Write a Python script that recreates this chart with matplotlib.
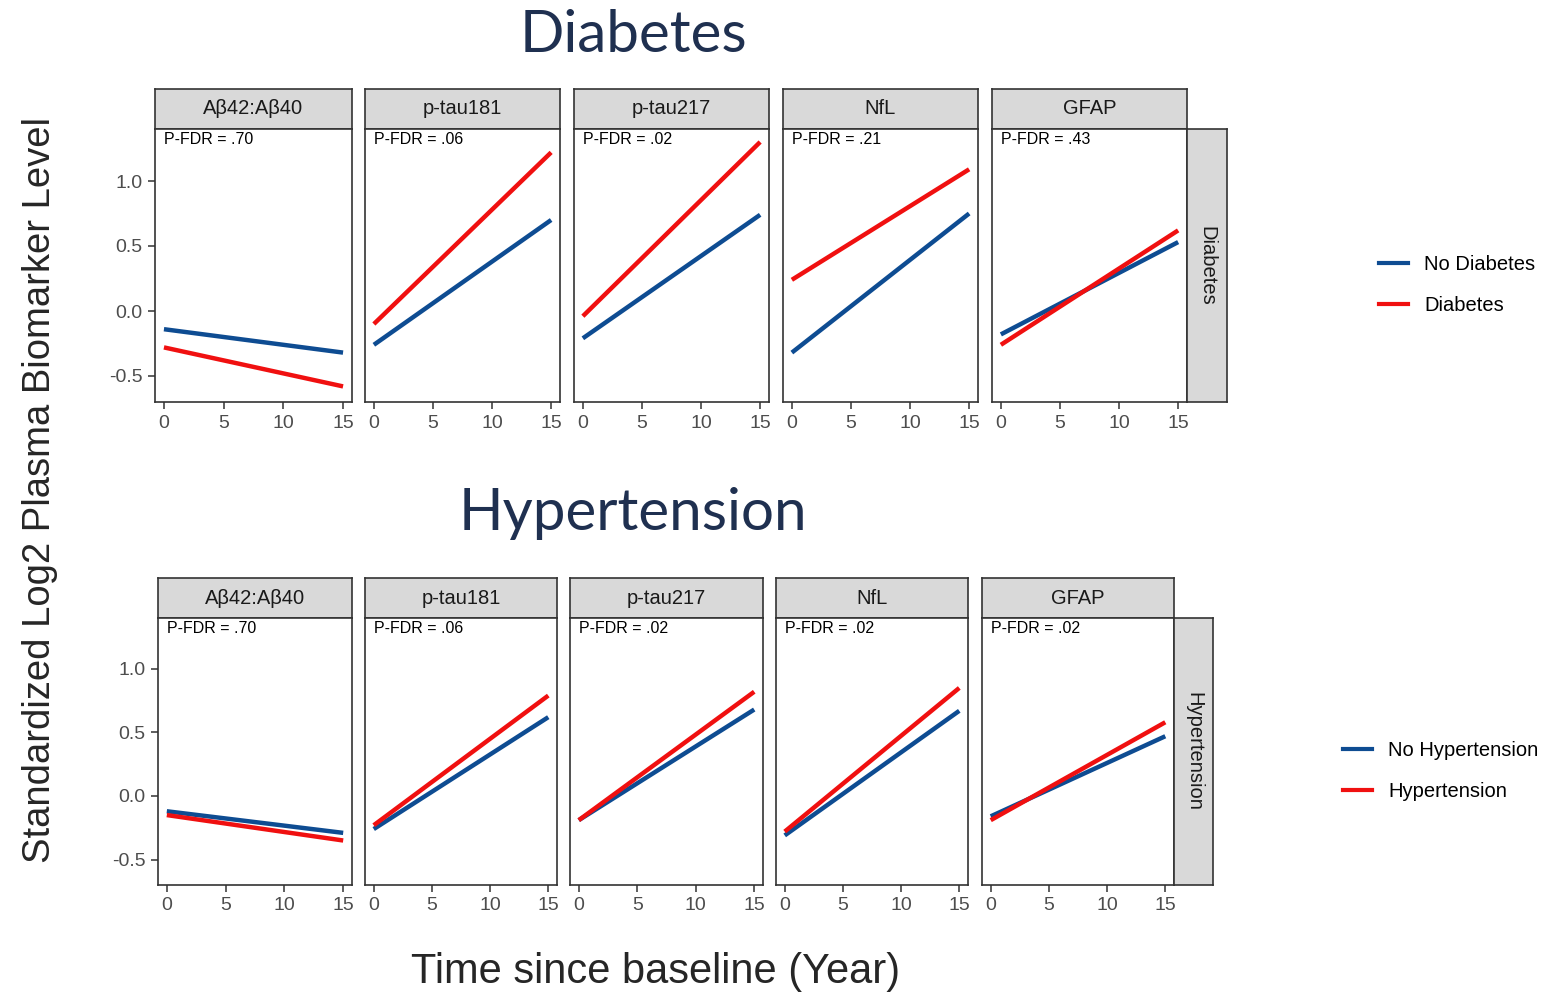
import matplotlib
matplotlib.use("Agg")
import matplotlib.pyplot as plt
from matplotlib.lines import Line2D

# dữ liệu
markers = ["Aβ42:Aβ40", "p-tau181", "p-tau217", "NfL", "GFAP"]
years = [0, 15]

diab_pfdr = [".70", ".06", ".02", ".21", ".43"]
diab_no = [[-0.14, -0.32], [-0.26, 0.70], [-0.21, 0.74], [-0.32, 0.75], [-0.18, 0.53]]
diab_yes = [[-0.28, -0.58], [-0.10, 1.22], [-0.04, 1.30], [0.24, 1.09], [-0.26, 0.62]]

hyp_pfdr = [".70", ".06", ".02", ".02", ".02"]
hyp_no = [[-0.12, -0.29], [-0.26, 0.62], [-0.19, 0.68], [-0.31, 0.67], [-0.16, 0.47]]
hyp_yes = [[-0.15, -0.35], [-0.23, 0.79], [-0.19, 0.82], [-0.28, 0.85], [-0.19, 0.58]]

x_ticks = [0, 5, 10, 15]
y_ticks = [-0.5, 0.0, 0.5, 1.0]
y_ticklabels = ["-0.5", "0.0", "0.5", "1.0"]

BLUE = "#0E4C92"
RED = "#F01010"
STRIP = "#D9D9D9"
EDGE = "#333333"
TXT = "#1A1A1A"
TICK = "#4D4D4D"

W, H = 1560, 992
plt.rcParams["font.family"] = ["Liberation Sans", "DejaVu Sans"]

fig = plt.figure(figsize=(W / 100, H / 100), dpi=100)


def box(x0, y0, x1, y1):
    return [x0 / W, 1 - y1 / H, (x1 - x0) / W, (y1 - y0) / H]


def draw_row(cols, strip_y, plot_y, right_strip, group, pfdr, no_vals, yes_vals):
    for i, (x0, x1) in enumerate(cols):
        # strip on top
        s = fig.add_axes(box(x0, strip_y[0], x1, strip_y[1]))
        s.set_facecolor(STRIP)
        s.set_xticks([])
        s.set_yticks([])
        for sp in s.spines.values():
            sp.set_color(EDGE)
            sp.set_linewidth(1.2)
        s.text(0.5, 0.5, markers[i], ha="center", va="center", fontsize=14.5, color=TXT)

        ax = fig.add_axes(box(x0, plot_y[0], x1, plot_y[1]))
        ax.plot(years, no_vals[i], color=BLUE, lw=3.2, solid_capstyle="butt")
        ax.plot(years, yes_vals[i], color=RED, lw=3.2, solid_capstyle="butt")
        ax.set_xlim(-0.75, 15.75)
        ax.set_ylim(-0.7, 1.4)
        ax.set_xticks(x_ticks)
        ax.set_yticks(y_ticks)
        if i == 0:
            ax.set_yticklabels(y_ticklabels)
        else:
            ax.tick_params(axis="y", left=False, labelleft=False)
        ax.tick_params(direction="out", length=5, width=1.1, colors=EDGE,
                       labelcolor=TICK, labelsize=14, pad=4)
        for sp in ax.spines.values():
            sp.set_color(EDGE)
            sp.set_linewidth(1.2)
        ax.text(0.0, 1.375, "P-FDR = " + pfdr[i], ha="left", va="top",
                fontsize=11.5, color="black")

    rs = fig.add_axes(box(right_strip[0], plot_y[0], right_strip[1], plot_y[1]))
    rs.set_facecolor(STRIP)
    rs.set_xticks([])
    rs.set_yticks([])
    for sp in rs.spines.values():
        sp.set_color(EDGE)
        sp.set_linewidth(1.2)
    rs.text(0.5, 0.5, group, ha="center", va="center", rotation=-90,
            fontsize=14.5, color=TXT)


top_cols = [(155, 352), (365, 560), (574, 769), (783, 978), (992, 1187)]
bot_cols = [(158, 352), (365, 557), (570, 763), (776, 968), (982, 1174)]

draw_row(top_cols, (89, 129), (129, 402), (1187, 1227), "Diabetes",
         diab_pfdr, diab_no, diab_yes)
draw_row(bot_cols, (578, 618), (618, 885), (1174, 1213), "Hypertension",
         hyp_pfdr, hyp_no, hyp_yes)

# titres
fig.text(633 / W, 1 - 35 / H, "Diabetes", ha="center", va="center",
         fontsize=42, color="#1F3050", family="Lato")
fig.text(633 / W, 1 - 513 / H, "Hypertension", ha="center", va="center",
         fontsize=42, color="#1F3050", family="Lato")

fig.text(40 / W, 1 - 490 / H, "Standardized Log2 Plasma Biomarker Level",
         ha="center", va="center", rotation=90, fontsize=27.5, color="#262626")
fig.text(656 / W, 1 - 972 / H, "Time since baseline (Year)",
         ha="center", va="center", fontsize=30, color="#262626")

# legendes
h1 = [Line2D([], [], color=BLUE, lw=3), Line2D([], [], color=RED, lw=3)]
fig.legend(h1, ["No Diabetes", "Diabetes"], loc="center left",
           bbox_to_anchor=(1361 / W, 1 - 285 / H), frameon=False,
           fontsize=14.5, handlelength=1.45, labelspacing=1.1, handletextpad=0.8)
fig.legend(h1, ["No Hypertension", "Hypertension"], loc="center left",
           bbox_to_anchor=(1325 / W, 1 - 771 / H), frameon=False,
           fontsize=14.5, handlelength=1.45, labelspacing=1.1, handletextpad=0.8)

fig.savefig("out.png", dpi=100)
